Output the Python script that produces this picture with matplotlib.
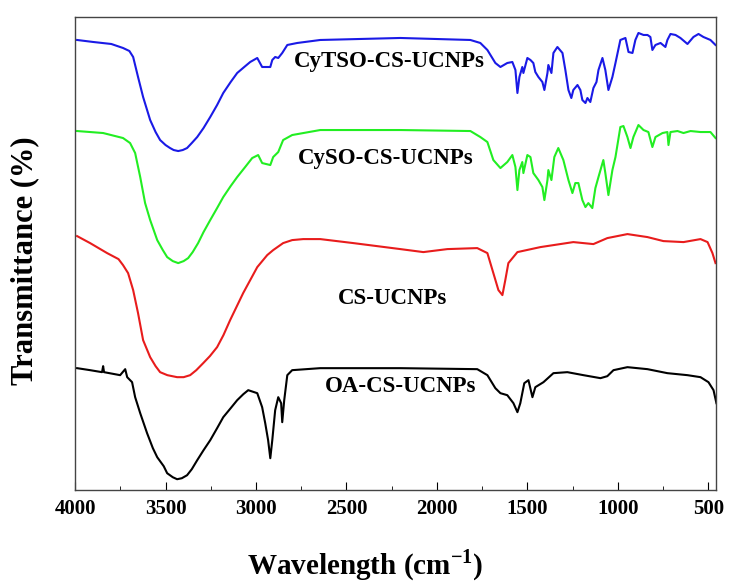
import matplotlib
matplotlib.use('Agg')
import matplotlib.pyplot as plt
from matplotlib.ticker import MultipleLocator

plt.rcParams['font.family'] = ['Liberation Serif', 'DejaVu Serif']
plt.rcParams['font.weight'] = 'bold'
plt.rcParams['mathtext.fontset'] = 'custom'
plt.rcParams['mathtext.rm'] = 'Liberation Serif:bold'
plt.rcParams['mathtext.bf'] = 'Liberation Serif:bold'

# CyTSO-CS-UCNPs (blue), wavenumber [cm-1] / transmittance [a.u.]
cytso_wn = [3989, 3900, 3800, 3735, 3700, 3679, 3652, 3624, 3585, 3555, 3530,
            3500, 3475, 3455, 3430, 3405, 3381, 3355, 3325, 3290,
            3253, 3215, 3181, 3140, 3104, 3065, 3032, 2993, 2966, 2921, 2910,
            2894, 2877, 2855, 2827, 2772, 2645, 2202, 1815, 1760, 1721, 1677,
            1649, 1611, 1583, 1566, 1555, 1544, 1528, 1522, 1500, 1483, 1467,
            1456, 1439, 1417, 1406, 1389, 1384, 1367, 1356, 1334, 1306, 1290,
            1273, 1257, 1246, 1223, 1207, 1196, 1179, 1168, 1152, 1135, 1118,
            1107, 1085, 1069, 1052, 1030, 1013, 986, 958, 941, 919, 903, 886,
            858, 836, 820, 809, 792, 764, 737, 726, 709, 681, 654, 615, 582,
            554, 527, 488, 460]
cytso_t = [450, 448, 446, 442, 439, 433, 413, 393, 370, 358, 350,
           345, 342, 340, 339, 340, 342, 347, 353, 362,
           373, 385, 397, 408, 417, 423, 428, 432, 423, 423, 430,
           433, 432, 437, 445, 447, 450, 452, 450, 447, 440, 427,
           423, 427, 428, 420, 397, 413, 423, 417, 432, 430, 427,
           418, 413, 408, 400, 417, 425, 417, 437, 443, 437, 420,
           400, 392, 400, 405, 400, 390, 387, 392, 388, 402, 408,
           420, 432, 420, 400, 413, 427, 450, 452, 438, 437, 450, 457,
           455, 455, 453, 440, 445, 447, 443, 450, 456, 455, 452, 446, 453,
           456, 453, 450, 445]

# CySO-CS-UCNPs (green)
cyso_wn = [3989, 3845, 3735, 3696, 3668, 3640, 3613, 3585, 3546, 3515, 3491,
           3460, 3430, 3400, 3375, 3350, 3320, 3290, 3253, 3215, 3181, 3140,
           3104, 3060, 3021, 2988, 2966, 2921, 2905, 2877, 2850, 2800, 2645,
           2202, 1815, 1760, 1721, 1688, 1649, 1611, 1583, 1566, 1555, 1544,
           1528, 1522, 1500, 1483, 1467, 1439, 1417, 1406, 1389, 1384, 1367,
           1351, 1329, 1301, 1273, 1251, 1235, 1218, 1196, 1179, 1163, 1141,
           1124, 1107, 1080, 1069, 1052, 1030, 1013, 986, 969, 947, 930, 914,
           886, 858, 831, 809, 792, 753, 726, 720, 709, 670, 637, 598, 543,
           488, 460]
cyso_t = [359, 357, 352, 347, 337, 313, 287, 270, 250, 240, 233,
          229, 227, 229, 232, 238, 247, 258, 270, 282, 293, 304,
          313, 323, 332, 335, 327, 325, 333, 338, 350, 355, 360,
          360, 359, 353, 348, 330, 322, 328, 335, 323, 300, 320,
          328, 317, 335, 333, 317, 310, 303, 290, 310, 320, 310,
          333, 342, 330, 310, 297, 307, 307, 290, 283, 287, 282,
          302, 313, 330, 317, 295, 320, 333, 363, 364, 353, 342, 353,
          365, 360, 358, 343, 353, 357, 358, 345, 358, 359, 357, 359, 358,
          358, 352]

# CS-UCNPs (red)
cs_wn = [3989, 3917, 3823, 3760, 3735, 3707, 3679, 3652, 3624, 3585, 3555,
         3530, 3490, 3436, 3400, 3364, 3330, 3292, 3255, 3215, 3180, 3143,
         3071, 2993, 2938, 2905, 2850, 2800, 2739, 2645, 2462, 2202, 2075,
         1942, 1777, 1721, 1688, 1660, 1638, 1622, 1605, 1555, 1428, 1246,
         1135, 1058, 947, 836, 748, 637, 543, 504, 477, 460]
cs_t = [254, 247, 237, 231, 225, 217, 200, 177, 150, 133, 124,
        118, 115, 113, 113, 115, 120, 127, 134, 143, 155, 170,
        197, 223, 235, 240, 247, 250, 251, 251, 247, 241, 238,
        241, 242, 237, 217, 200, 195, 210, 227, 238, 243, 248,
        246, 252, 256, 253, 249, 248, 251, 248, 237, 227]

# OA-CS-UCNPs (black)
oa_wn = [3989, 3917, 3851, 3845, 3840, 3751, 3723, 3712, 3685, 3668, 3640,
         3602, 3570, 3546, 3510, 3491, 3460, 3436, 3410, 3381, 3355, 3325,
         3290, 3253, 3215, 3181, 3140, 3104, 3070, 3043, 2993, 2966, 2949,
         2933, 2921, 2910, 2894, 2877, 2861, 2855, 2844, 2827, 2800, 2645,
         2202, 1777, 1721, 1677, 1649, 1611, 1577, 1555, 1539, 1517, 1494,
         1472, 1456, 1411, 1356, 1279, 1190, 1096, 1058, 1024, 947, 836, 726,
         615, 543, 499, 471, 455]
oa_t = [122, 120, 118, 124, 118, 115, 121, 113, 108, 93, 77,
        57, 42, 33, 24, 17, 13, 11, 12, 15, 21, 30,
        40, 50, 62, 73, 82, 90, 96, 100, 97, 83, 67,
        50, 32, 50, 80, 93, 87, 68, 90, 115, 120, 122,
        122, 121, 115, 102, 97, 95, 87, 78, 87, 107, 110,
        93, 103, 108, 117, 118, 115, 112, 114, 120, 123, 121, 117,
        115, 113, 108, 100, 87]

names = ['CyTSO-CS-UCNPs', 'CySO-CS-UCNPs', 'CS-UCNPs', 'OA-CS-UCNPs']
label_wn = [2263, 2285, 2247, 2202]
label_t = [428, 332, 192, 104]

fig = plt.figure(figsize=(7.29, 5.85), dpi=100)
ax = fig.add_axes([0.103, 0.162, 0.879, 0.809])

ax.plot(cytso_wn, cytso_t, color='#1a1ae6', lw=1.5)
ax.plot(cyso_wn, cyso_t, color='#22ee22', lw=1.5)
ax.plot(cs_wn, cs_t, color='#e81c1c', lw=1.5)
ax.plot(oa_wn, oa_t, color='black', lw=1.5)

for name, x, y in zip(names, label_wn, label_t):
    ax.text(x, y, name, fontsize=16.5, fontweight='bold', ha='center', va='center')

ax.set_xlim(4000, 458)
ax.set_ylim(0, 473)
ax.xaxis.set_major_locator(MultipleLocator(500))
ax.xaxis.set_minor_locator(MultipleLocator(250))
ax.tick_params(axis='x', which='both', direction='in', labelsize=15, pad=6)
ax.tick_params(axis='x', which='major', length=6)
ax.tick_params(axis='x', which='minor', length=3)
ax.set_yticks([])
for lab in ax.get_xticklabels():
    lab.set_fontweight('bold')
for sp in ax.spines.values():
    sp.set_color('#444444')
    sp.set_linewidth(1.0)

ax.set_xlabel('Wavelength (cm$^{-1}$)', fontsize=21, fontweight='bold', va='center')
ax.xaxis.set_label_coords(0.452, -0.159)
ax.set_ylabel('Transmittance (%)', fontsize=22, fontweight='bold', va='center')
ax.yaxis.set_label_coords(-0.078, 0.486)

fig.savefig('out.png', dpi=100)
